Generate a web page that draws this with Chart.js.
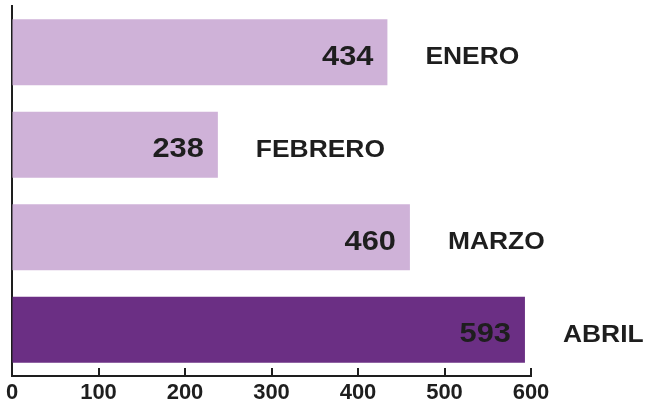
<!DOCTYPE html>
<html lang="es">
<head>
    <meta charset="UTF-8">
    <title>Meses</title>
    <script src="https://cdn.jsdelivr.net/npm/chart.js"></script>
    <style>
        body { margin: 0; background: #fff; }
        #wrap { width: 648px; height: 408px; }
    </style>
</head>
<body>
<div id="wrap"><canvas id="myChart"></canvas></div>

<script>
    // datos
    const meses = ['ENERO', 'FEBRERO', 'MARZO', 'ABRIL'];
    const valores = [434, 238, 460, 593];
    const colores = ['#cfb2d8', '#cfb2d8', '#cfb2d8', '#6b2f84'];
    const ticksX = [0, 100, 200, 300, 400, 500, 600];

    const INK = '#1e1e1e';
    const FUENTE = '"Liberation Sans", Arial, sans-serif';

    // etiquetas de valor y de mes + marcas del eje x hacia arriba
    const etiquetas = {
        id: 'etiquetas',
        afterDatasetsDraw(chart) {
            const ctx = chart.ctx;
            const meta = chart.getDatasetMeta(0);
            ctx.save();
            ctx.fillStyle = INK;
            ctx.textBaseline = 'alphabetic';
            meta.data.forEach((bar, i) => {
                // valor dentro de la barra
                ctx.save();
                ctx.font = 'bold 28px ' + FUENTE;
                ctx.textAlign = 'right';
                ctx.translate(bar.x - 14, bar.y + 12.5);
                ctx.scale(1.1, 1);
                ctx.fillText(String(valores[i]), 0, 0);
                ctx.restore();
                // nombre del mes a la derecha
                ctx.save();
                ctx.font = 'bold 24px ' + FUENTE;
                ctx.textAlign = 'left';
                ctx.translate(bar.x + 38, bar.y + 12);
                ctx.scale(1.1, 1);
                ctx.fillText(meses[i], 0, 0);
                ctx.restore();
            });
            const xs = chart.scales.x;
            const bottom = chart.chartArea.bottom;
            ctx.strokeStyle = INK;
            ctx.lineWidth = 2;
            ticksX.forEach(v => {
                const px = Math.round(xs.getPixelForValue(v));
                ctx.beginPath();
                ctx.moveTo(px, bottom);
                ctx.lineTo(px, bottom - 8);
                ctx.stroke();
            });
            ctx.restore();
        }
    };

    new Chart(document.getElementById('myChart'), {
        type: 'bar',
        data: {
            labels: meses,
            datasets: [{
                data: valores,
                backgroundColor: colores,
                borderWidth: 0,
                categoryPercentage: 1,
                barPercentage: 0.715
            }]
        },
        options: {
            indexAxis: 'y',
            responsive: true,
            maintainAspectRatio: false,
            animation: false,
            layout: { padding: { left: 12, right: 117, top: 6, bottom: 0 } },
            plugins: {
                legend: { display: false },
                tooltip: { enabled: false }
            },
            scales: {
                x: {
                    min: 0,
                    max: 600,
                    afterBuildTicks: s => { s.ticks = ticksX.map(v => ({ value: v })); },
                    afterFit: s => { s.height = 32; },
                    grid: { display: true, drawOnChartArea: false, drawTicks: false },
                    border: { display: true, color: INK, width: 2 },
                    ticks: {
                        padding: 4,
                        color: INK,
                        font: { family: FUENTE, size: 22, weight: 'bold' }
                    }
                },
                y: {
                    grid: { display: true, drawOnChartArea: false, drawTicks: false },
                    border: { display: true, color: INK, width: 2 },
                    ticks: { display: false }
                }
            }
        },
        plugins: [etiquetas]
    });
</script>
</body>
</html>
